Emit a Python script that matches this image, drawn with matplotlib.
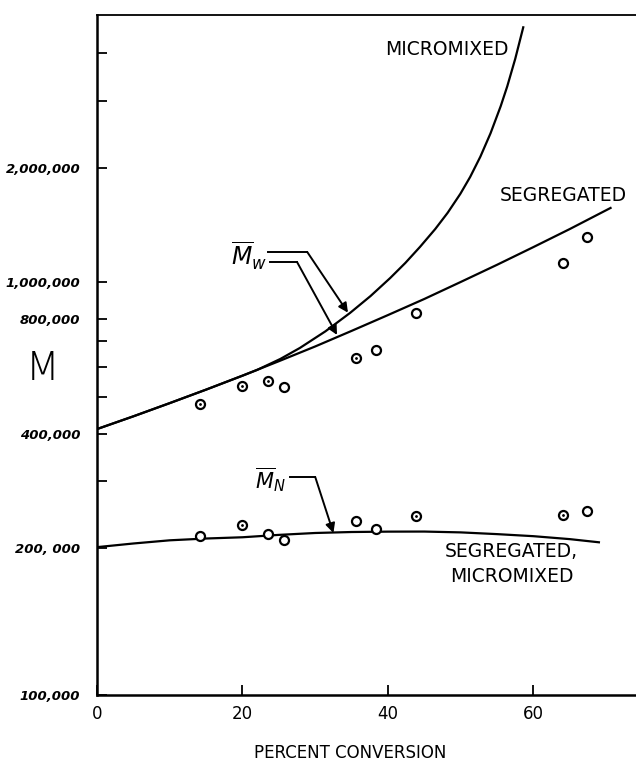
# Molecular weight vs. conversion: segregated and micromixed reactor models
import numpy as np
import matplotlib.pyplot as plt
from matplotlib.ticker import FixedLocator, NullFormatter

# Measured points (percent conversion, molecular weight)
conversion = [14.1, 20.0, 23.5, 25.7, 35.6, 38.4, 43.9, 64.1, 67.4]
mw_points = [478e3, 535e3, 550e3, 530e3, 634e3, 664e3, 829e3, 1.127e6, 1.319e6]
mn_points = [215e3, 230e3, 218e3, 210e3, 236e3, 225e3, 243e3, 244e3, 250e3]
mw_dotted = [1, 1, 1, 0, 1, 0, 0, 0, 0]
mn_dotted = [0, 1, 0, 0, 0, 0, 1, 1, 0]

# Model curves
seg_w_x = [0, 5, 10, 15, 20, 25, 30, 35, 40, 45, 50, 55, 60, 65, 70.6]
seg_w_y = [411e3, 444e3, 481e3, 522e3, 568e3, 620e3, 678e3, 745e3, 820e3, 904e3,
           1.002e6, 1.112e6, 1.238e6, 1.381e6, 1.569e6]
micro_w_x = [0, 5, 10, 15, 20, 22.0, 25.2, 27.9, 31.4, 34.8, 37.6, 40.3, 42.4, 44.4,
             46.5, 48.2, 49.95, 51.3, 52.7, 54.1, 55.5, 56.4, 57.5, 58.6]
micro_w_y = [411e3, 444e3, 481e3, 522e3, 568e3, 588e3, 628.5e3, 672e3, 743e3, 831e3,
             920e3, 1.026e6, 1.125e6, 1.239e6, 1.381e6, 1.523e6, 1.709e6, 1.893e6,
             2.14e6, 2.466e6, 2.907e6, 3.278e6, 3.874e6, 4.687e6]
n_x = [0, 5, 10, 15, 20, 25, 30, 35, 40, 45, 50, 55, 60, 65, 69]
n_y = [201e3, 205.5e3, 209.5e3, 211.8e3, 213.4e3, 216.5e3, 219e3, 220.3e3, 220.8e3,
       220.9e3, 219.8e3, 217.5e3, 214.8e3, 211e3, 207e3]

# Axis ticks
y_major = [1e5, 2e5, 4e5, 8e5, 1e6, 2e6]
y_labels = ["100,000", "200, 000", "400,000", "800,000", "1,000,000", "2,000,000"]
y_minor = [3e5, 5e5, 6e5, 7e5, 3e6, 4e6]
x_major = [0, 20, 40, 60]


# Log axis whose first cycle (100,000 - 200,000) is drawn taller than the rest
def y_forward(v):
    lg = np.log10(np.clip(v, 1.0, None))
    return np.where(lg < np.log10(2e5), (lg - 5) * (147 / np.log10(2)),
                    147 + (lg - np.log10(2e5)) * 380)


def y_inverse(u):
    u = np.asarray(u, dtype=float)
    return np.where(u < 147, 10 ** (5 + u * np.log10(2) / 147),
                    10 ** (np.log10(2e5) + (u - 147) / 380))


fig = plt.figure(figsize=(6.36, 7.61), dpi=100)
ax = fig.add_axes([97 / 636, 66 / 761, 1 - 97 / 636, 680 / 761])

ax.set_yscale("function", functions=(y_forward, y_inverse))
ax.set_xlim(0, 74.1)
ax.set_ylim(1e5, 5.05e6)

# Curves
ax.plot(seg_w_x, seg_w_y, color="black", lw=1.6)
ax.plot(micro_w_x, micro_w_y, color="black", lw=1.6)
ax.plot(n_x, n_y, color="black", lw=1.6)

# Data points: open circles, some with a centre dot
for xs, ys, dots in [(conversion, mw_points, mw_dotted), (conversion, mn_points, mn_dotted)]:
    ax.plot(xs, ys, "o", ms=6.5, mfc="white", mec="black", mew=1.6)
    ax.plot([x for x, d in zip(xs, dots) if d], [y for y, d in zip(ys, dots) if d],
            ".", ms=2, color="black")

# Curve labels
ax.text(48.1, 4.09e6, "MICROMIXED", ha="center", va="center", fontsize=13.5)
ax.text(64.1, 1.688e6, "SEGREGATED", ha="center", va="center", fontsize=13.5)
ax.text(57.0, 185.5e3, "SEGREGATED,\nMICROMIXED", ha="center", va="center",
        fontsize=13.5, linespacing=1.4)

# Mw and Mn pointers
arrow = dict(arrowstyle="-|>", color="black", lw=1.4, mutation_scale=14,
             shrinkA=0, shrinkB=0)
ax.text(20.9, 1.173e6, r"$\overline{M}_{w}$", ha="center", va="center", fontsize=17)
ax.plot([23.5, 28.9], [1.202e6, 1.202e6], color="black", lw=1.4)
ax.annotate("", xy=(34.5, 832e3), xytext=(28.9, 1.202e6), arrowprops=arrow)
ax.plot([23.8, 27.5], [1.131e6, 1.131e6], color="black", lw=1.4)
ax.annotate("", xy=(33.0, 727e3), xytext=(27.5, 1.131e6), arrowprops=arrow)

ax.text(23.8, 303e3, r"$\overline{M}_{N}$", ha="center", va="center", fontsize=15)
ax.plot([26.5, 30.0], [307.5e3, 307.5e3], color="black", lw=1.4)
ax.annotate("", xy=(32.5, 219e3), xytext=(30.0, 307.5e3), arrowprops=arrow)

# Ticks and labels
ax.yaxis.set_major_locator(FixedLocator(y_major))
ax.yaxis.set_minor_locator(FixedLocator(y_minor))
ax.yaxis.set_minor_formatter(NullFormatter())
ax.set_yticklabels(y_labels, fontsize=9.5, fontweight="bold", fontstyle="italic")
ax.set_xticks(x_major)
ax.set_xticklabels([str(v) for v in x_major], fontsize=12)
ax.tick_params(axis="y", which="both", direction="in", length=7, width=1.3, pad=12)
ax.tick_params(axis="x", direction="in", length=7, width=1.3, pad=7)

ax.spines["right"].set_visible(False)
ax.spines["left"].set_linewidth(1.8)
ax.spines["bottom"].set_linewidth(1.8)
ax.spines["top"].set_linewidth(1.3)

fig.text(350 / 636, 1 - 753 / 761, "PERCENT CONVERSION", ha="center", va="center", fontsize=12)
fig.text(43 / 636, 1 - 369 / 761, "M", ha="center", va="center", fontsize=28, fontweight="light")

fig.savefig("out.png", dpi=100)
